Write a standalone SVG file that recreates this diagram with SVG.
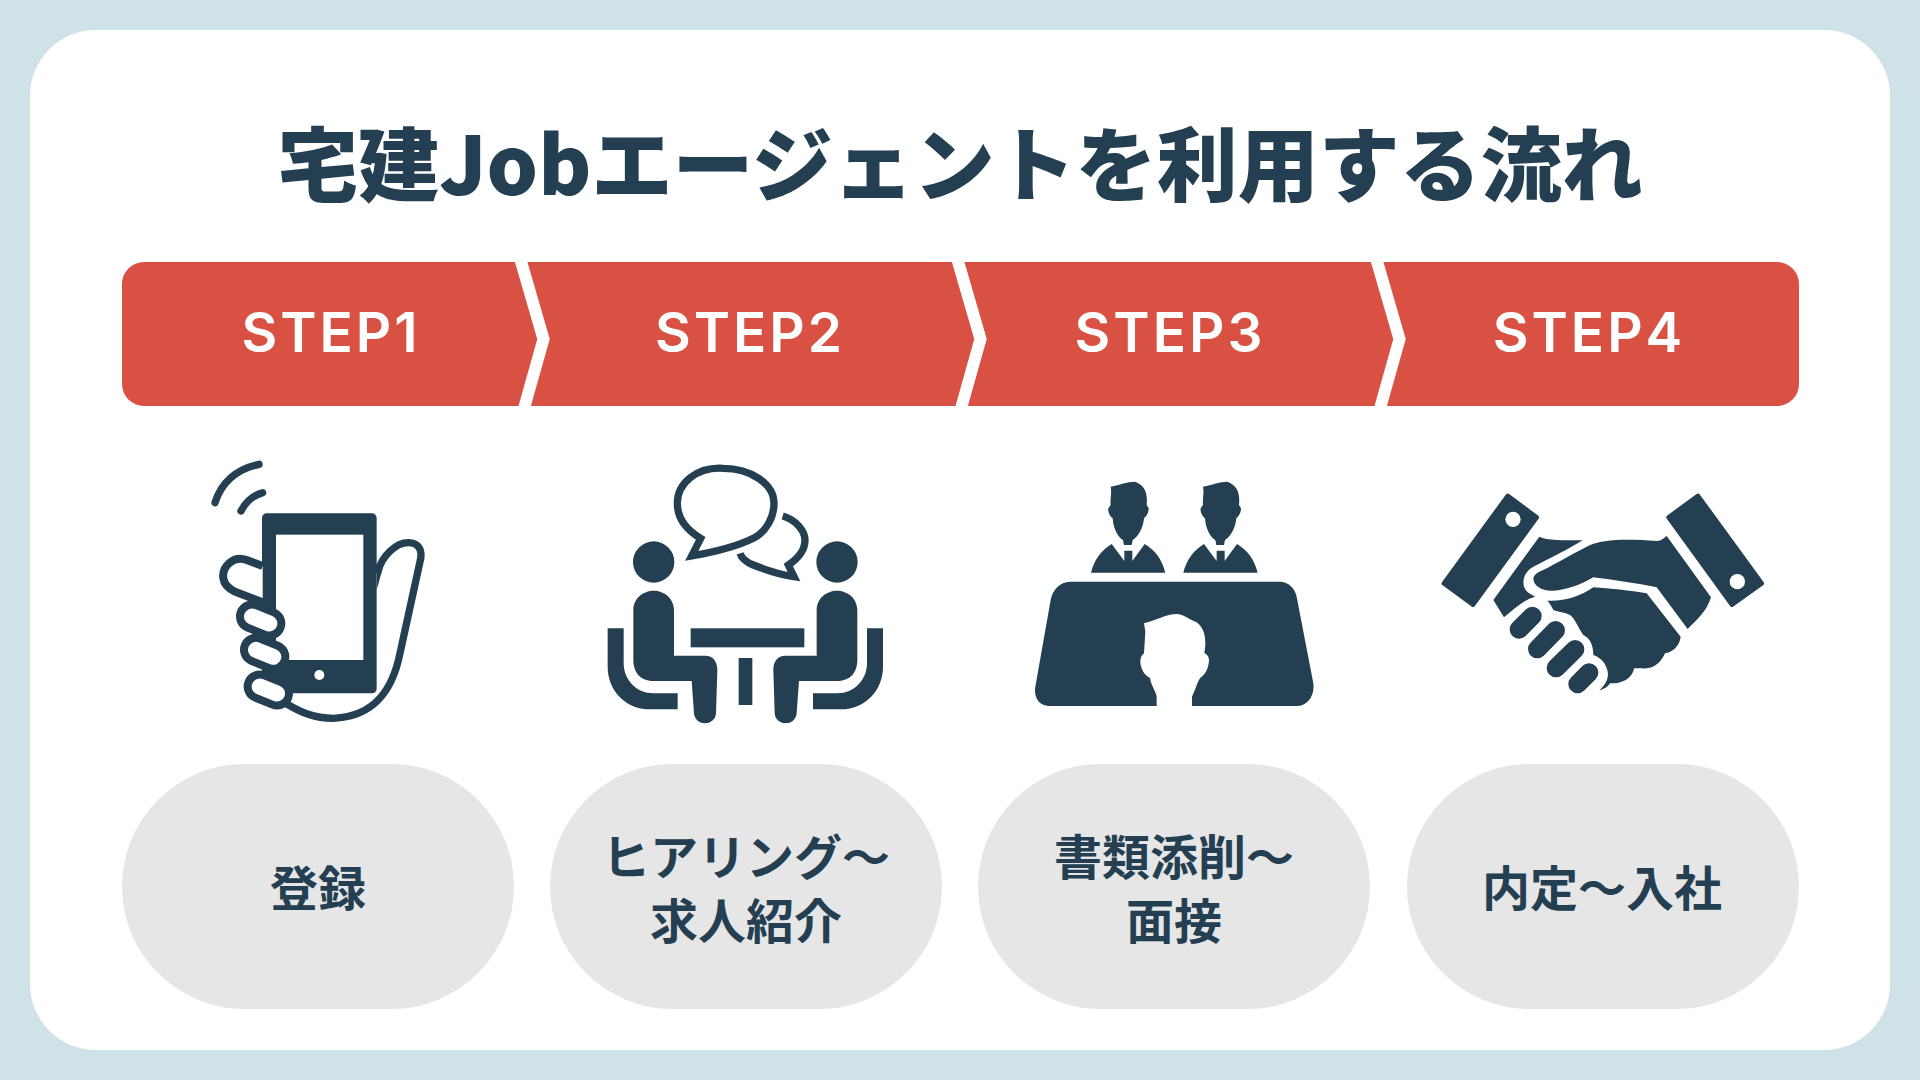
<svg xmlns="http://www.w3.org/2000/svg" xmlns:xlink="http://www.w3.org/1999/xlink" width="1920" height="1080" viewBox="0 0 1920 1080">
<style>
.jp{font-family:"Noto Sans CJK JP","Noto Sans CJK SC",sans-serif;font-weight:700;fill:#243f52;text-anchor:middle}
.tt{font-weight:900;font-size:81px}
.lb{font-size:48px}
.st{font-family:Inter,"Noto Sans",sans-serif;font-weight:600;font-size:55px;letter-spacing:3px;fill:#fff;text-anchor:middle}
.pill{fill:#e6e6e6}
.ic{fill:#243f52}
.ln{fill:none;stroke:#243f52;stroke-width:22}
.fg{fill:#fff;stroke:#243f52;stroke-width:24}
.chev{fill:none;stroke:#fff;stroke-width:12;stroke-miterlimit:10}
</style>
<rect width="1920" height="1080" fill="#cfe2e8"/>
<rect x="30" y="30" width="1860" height="1020" rx="66" fill="#fff"/>
<text id="title" class="jp tt" x="960" y="195">宅建Jobエージェントを利用する流れ</text>
<g id="steps">
<rect x="122" y="262" width="1677" height="144" rx="22" fill="#d95142"/>
<path class="chev" d="M520,258 L543.5,339 L523,412"/>
<path class="chev" d="M957,258 L980.5,339 L960,412"/>
<path class="chev" d="M1376,258 L1399.5,339 L1379,412"/>
<text id="step1" class="st" x="331" y="352">STEP1</text>
<text id="step2" class="st" x="750" y="352">STEP2</text>
<text id="step3" class="st" x="1170" y="352">STEP3</text>
<text id="step4" class="st" x="1589" y="352">STEP4</text>
</g>
<g id="icon-phone" transform="translate(190,440) scale(.33333)">
<path class="ln" stroke-linecap="round" d="M75,188 Q105,95 207,73"/>
<path class="ln" stroke-linecap="round" d="M153,213 Q175,170 218,158"/>
<path class="ln" d="M562,400 C575,345 620,308 655,308 C685,308 700,330 690,365 L630,640 C610,740 560,830 430,835 C370,835 330,815 290,792"/>
<path class="ic" d="M560,370 L578,385 L560,450Z"/>
<rect class="ic" x="216" y="220" width="344" height="540" rx="14"/>
<rect x="258" y="284" width="262" height="376" fill="#fff"/>
<circle cx="388" cy="705" r="15" fill="#fff"/>
<path class="fg" d="M218,378 L170,360 C130,345 95,380 100,415 C103,440 125,450 135,455 L218,487"/>
<rect class="fg" x="148" y="504" width="128" height="72" rx="36" transform="rotate(22 212 540)"/>
<rect class="fg" x="160" y="604" width="128" height="72" rx="36" transform="rotate(22 224 640)"/>
<rect class="fg" x="171" y="714" width="128" height="72" rx="36" transform="rotate(22 235 750)"/>
</g>
<g id="icon-meeting" transform="translate(590,450) scale(.33333)">
<path class="ln" d="M400,55 C320,50 262,100 262,160 C262,205 290,240 332,265 L305,318 C380,305 440,290 490,265 C530,245 552,200 552,160 C552,100 480,55 400,55 Z"/>
<path class="ln" d="M578,198 C620,210 645,245 645,270 C645,300 625,325 595,345 L612,380 C560,372 515,355 490,345 C470,337 455,325 450,310"/>
<circle class="ic" cx="191" cy="336" r="62"/>
<circle class="ic" cx="741" cy="336" r="62"/>
<g id="seat"><path class="ic" d="M130,480 C130,445 160,422 191,422 C222,422 252,445 252,480 L252,617 L345,617 C370,617 382,635 382,660 L378,790 C377,810 360,820 345,820 C325,820 313,805 312,790 L305,693 L190,693 C150,693 130,665 130,630 Z"/>
<path class="ic" d="M53,535 L101,535 L101,640 C101,690 140,730 190,730 L263,730 L263,778 L180,778 C105,778 53,720 53,650 Z"/></g>
<use xlink:href="#seat" href="#seat" transform="matrix(-1 0 0 1 932 0)"/>
<rect class="ic" x="302" y="535" width="341" height="57"/>
<rect class="ic" x="446" y="624" width="41" height="141"/>
</g>
<g id="icon-interview" transform="translate(1020,460) scale(.33333)">
<path class="ic" d="M150,365 L780,365 C805,365 825,385 830,410 L880,670 C885,710 860,738 830,738 L516,738 L516,710 C530,680 535,655 545,650 C560,640 567,615 567,600 C567,585 556,582 553,578 C558,550 560,510 530,487 C510,480 490,462 470,462 C440,462 410,480 372,490 L376,515 L372,580 C360,590 358,605 365,625 C372,645 385,650 390,655 C395,680 410,700 410,710 L410,738 L90,738 C60,738 40,715 46,680 L92,420 C97,390 120,365 150,365 Z"/>
<g id="person"><path class="ic" d="M272,80 C300,75 320,65 345,65 C372,75 384,95 380,135 L386,145 C386,160 378,170 372,175 C370,205 352,234 338,240 L335,255 L312,255 L309,240 C293,232 280,205 278,175 C270,170 263,155 265,145 L272,135 C270,115 276,100 272,80 Z"/>
<path class="ic" d="M213,338 C222,300 245,270 275,252 L313,303 L313,338Z M436,338 C427,300 405,270 374,252 L337,303 L337,338Z M313,272 L337,272 L337,338 L313,338Z"/></g>
<use xlink:href="#person" href="#person" x="277"/>
</g>
<g id="icon-handshake" transform="translate(1430,480) scale(.33333)">
<path class="ic" stroke="#243f52" stroke-width="14" stroke-linejoin="round" d="M233,48 L320,112 L129,374 L42,310Z"/>
<path class="ic" stroke="#243f52" stroke-width="14" stroke-linejoin="round" d="M804,48 L995,310 L906,374 L716,112Z"/>
<circle cx="249" cy="118" r="23" fill="#fff"/>
<circle cx="922" cy="305" r="23" fill="#fff"/>
<path class="ic" d="M328,170 C350,182 400,180 458,181 C420,205 360,235 310,260 C290,270 275,295 282,320 C290,340 310,345 315,350 C280,360 255,385 222,412 L190,360 Z"/>
<path class="ic" d="M710,168 L843,352 C830,395 800,420 773,447 L680,322 C620,310 550,300 490,292 C450,315 410,330 370,332 C340,335 310,320 310,295 C312,285 320,278 335,272 C380,250 430,220 470,200 C520,175 600,178 680,183 C695,182 700,175 710,168 Z"/>
<path class="ic" d="M490,322 C540,325 600,332 650,340 L752,470 C750,490 735,515 705,520 C695,545 670,570 635,565 L612,565 C610,590 580,610 552,610 L540,610 C535,620 520,628 508,632 C530,610 540,590 530,565 C525,545 505,530 490,525 C490,495 480,475 460,465 C445,445 435,415 420,405 C400,395 380,395 370,390 C365,380 360,370 352,362 C400,365 450,350 490,322 Z"/>
<g stroke="#243f52" stroke-width="56" stroke-linecap="round" fill="none">
<path d="M267,448 L307,408"/><path d="M322,507 L377,451"/><path d="M378,564 L435,508"/><path d="M443,612 L477,578"/>
</g>
</g>
<g id="node1"><rect class="pill" x="122" y="764" width="392" height="245" rx="122.5"/><text class="jp lb" x="318" y="906">登録</text></g>
<g id="node2"><rect class="pill" x="550" y="764" width="392" height="245" rx="122.5"/><text class="jp lb" x="746" y="875">ヒアリング～</text><text class="jp lb" x="746" y="939">求人紹介</text></g>
<g id="node3"><rect class="pill" x="978" y="764" width="392" height="245" rx="122.5"/><text class="jp lb" x="1174" y="875">書類添削～</text><text class="jp lb" x="1174" y="939">面接</text></g>
<g id="node4"><rect class="pill" x="1407" y="764" width="392" height="245" rx="122.5"/><text class="jp lb" x="1602" y="906">内定～入社</text></g>
</svg>
